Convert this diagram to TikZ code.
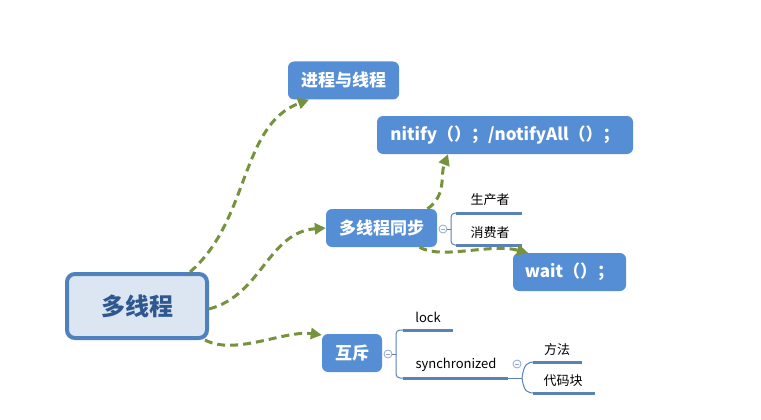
\documentclass[tikz,border=0pt]{standalone}
\usepackage{fontspec}
\setmainfont{Noto Sans CJK SC}
\usetikzlibrary{arrows.meta}
\definecolor{nodeblue}{HTML}{558ED5}
\definecolor{rootfill}{HTML}{DCE6F2}
\definecolor{rootline}{HTML}{4F81BD}
\definecolor{roottext}{HTML}{2F5890}
\definecolor{linkgreen}{HTML}{76923C}
\definecolor{subline}{HTML}{5B82B8}
\definecolor{btncol}{HTML}{8EA9CF}
\begin{document}
\begin{tikzpicture}[x=1pt,y=-1pt,
  topic/.style={rectangle, rounded corners=6pt, fill=nodeblue, text=white,
    font=\fontsize{17}{20}\selectfont\bfseries, inner sep=0pt, minimum height=38pt},
  rootbox/.style={rectangle, rounded corners=8pt, fill=rootfill, draw=rootline,
    line width=4pt, text=roottext, font=\fontsize{24}{28}\selectfont\bfseries,
    inner sep=0pt, minimum width=140pt, minimum height=64pt},
  link/.style={draw=linkgreen, line width=3pt, dash pattern=on 8pt off 5pt,
    -{Triangle[length=11pt,width=11pt]}},
  subtext/.style={font=\fontsize{13}{15}\selectfont, text=black, inner sep=0pt},
  underline/.style={draw=subline, line width=3pt},
  bracket/.style={draw=subline, line width=1pt},
  collapse/.style={circle, draw=btncol, line width=0.8pt, fill=white,
    minimum size=8pt, inner sep=0pt,
    path picture={\draw[btncol, line width=0.8pt]
      ([xshift=-2pt]path picture bounding box.center) -- ([xshift=2pt]path picture bounding box.center);}},
]
\useasboundingbox (0,0) rectangle (761,420);
\fill[white] (0,0) rectangle (761,420);

% main nodes
\node[rootbox] (root) at (137,306) {多线程};
\node[topic, minimum width=111pt] (proc) at (343.5,80.5) {进程与线程};
\node[topic, minimum width=256pt] (notify) at (505,135) {nitify（）；/notifyAll（）；};
\node[topic, minimum width=111pt] (sync) at (381.5,228) {多线程同步};
\node[topic, minimum width=113pt] (wait) at (569.5,272) {wait（）；};
\node[topic, minimum width=60pt] (mutex) at (352,353) {互斥};

% sub texts
\node[subtext] (prod) at (490,200) {生产者};
\node[subtext] (cons) at (490,233) {消费者};
\node[subtext] (lock) at (428,317) {lock};
\node[subtext] (synchr) at (456,365) {synchronized};
\node[subtext] (method) at (557,350) {方法};
\node[subtext] (block) at (563,381) {代码块};

% collapse buttons
\node[collapse] (c1) at (443,229) {};
\node[collapse] (c2) at (388,354) {};
\node[collapse] (c3) at (517,364) {};

% sub structure for 多线程同步
\coordinate (b1t) at (451,213);
\coordinate (b1b) at (451,245);
\draw[bracket] (c1.east) -- (451,229);
\draw[bracket, rounded corners=4pt] (458,213) -- (b1t) -- (b1b) -- (458,245);
\draw[underline] (456,213) -- (522,213);
\draw[underline] (456,245) -- (522,245);

% sub structure for 互斥
\draw[bracket] (c2.east) -- (396,354);
\draw[bracket, rounded corners=4pt] (404,330) -- (396,330) -- (396,378) -- (404,378);
\draw[underline] (403,330) -- (453,330);
\draw[underline] (403,378) -- (508,378);
\draw[bracket] (508,378) -- (522,378);
\draw[bracket] (522,378) .. controls (524,364) and (527,362) .. (535,362);
\draw[bracket] (522,378) .. controls (524,392) and (527,393) .. (535,393);
\draw[underline] (533,362) -- (582,362);
\draw[underline] (533,393) -- (595,393);

% connectors
\draw[link] ([xshift=53pt]root.north) .. controls (250,220) and (240,125) .. (proc.south -| 309,0);
\draw[link] ([yshift=-3pt]root.east) .. controls (262,295) and (268,232) .. (sync.west);
\draw[link] ([xshift=-4pt]root.south east) .. controls (235,356) and (285,330) .. ([yshift=18pt]mutex.west);
\draw[link] ([xshift=46pt]sync.north) .. controls (447,195) and (440,175) .. (notify.south -| 448,0);
\draw[link] ([xshift=38pt]sync.south) .. controls (442,260) and (490,243) .. (wait.north -| 528,0);
\end{tikzpicture}
\end{document}
